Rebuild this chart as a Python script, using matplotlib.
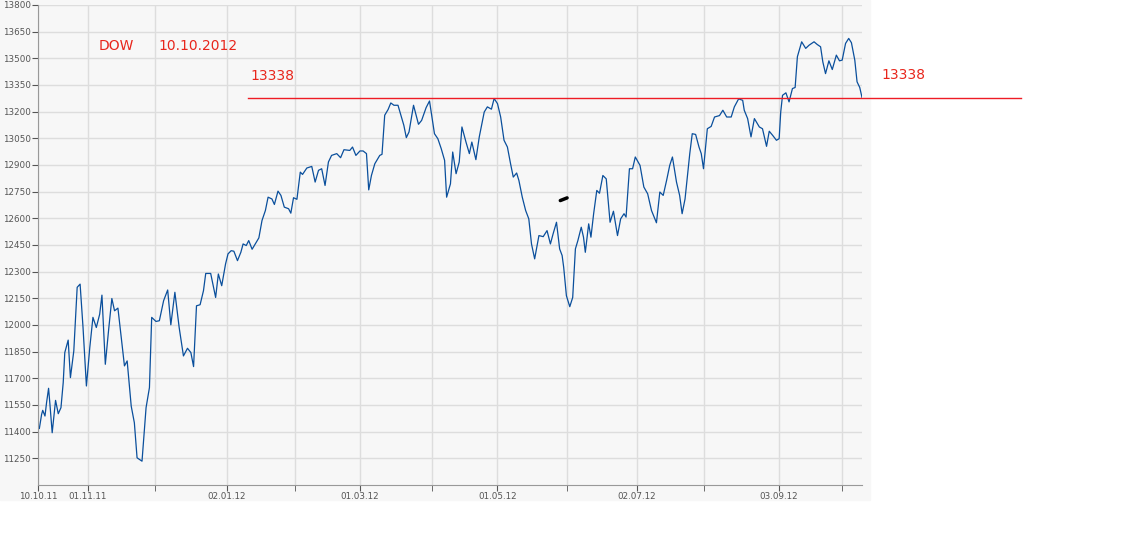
import pandas as pd
import matplotlib.pyplot as plt

# day offsets from 10.10.2011 and DOW closes
days = [0.6, 1.6, 2.1, 3.1, 3.8, 4.7, 5.3, 6.3, 7.1, 7.8, 9.0, 10.2, 11.2, 11.9, 13.4, 14.4, 15.9, 17.4, 18.7, 20.0,
        21.5, 23.0, 24.4, 25.9, 27.4, 28.4, 29.9, 31.4, 32.8, 34.0, 35.5, 37.0, 38.4, 39.6, 41.4, 42.8, 44.0, 46.2, 48.0, 49.5,
        50.5, 52.4, 53.9, 55.8, 57.6, 59.0, 60.8, 62.7, 64.6, 66.4, 67.9, 69.1, 70.4, 72.0, 73.5, 74.5, 76.7, 78.9, 80.1, 81.6,
        83.3, 84.4, 85.8, 87.0, 88.6, 90.1, 91.1, 92.5, 93.6, 95.1, 98.1, 99.5, 101.0, 102.2, 103.9, 105.0, 106.6, 107.9, 109.4, 111.3,
        112.3, 113.5, 115.0, 116.5, 117.5, 119.4, 121.6, 123.1, 124.6, 126.0, 127.5, 129.0, 130.4, 132.7, 134.4, 135.9, 138.5, 139.7, 141.2, 143.0,
        144.4, 145.9, 146.9, 148.1, 149.6, 151.8, 152.8, 154.0, 155.5, 156.7, 158.1, 159.9, 161.4, 162.5, 163.6, 164.8, 166.8, 169.0, 170.4, 172.4,
        173.9, 176.1, 177.6, 179.1, 180.6, 181.5,
        183.2, 184.2, 185.7, 187.1, 188.3, 190.1, 191.6, 192.7, 194.5, 196.0, 198.2, 199.6, 201.4, 202.6, 204.1, 205.5, 207.0, 208.5, 209.9, 211.1,
        212.6, 213.6, 215.1, 216.6, 218.0, 219.2, 220.6, 222.5, 224.4, 226.1, 227.6, 228.8, 230.3, 231.7, 232.8, 233.5, 234.7, 236.2, 237.5, 238.7,
        239.8, 241.3, 242.3, 243.1, 244.6, 245.6, 246.8, 248.2, 249.4, 250.9, 252.4, 254.1, 255.6, 257.4, 258.8, 260.3, 261.2, 262.7, 264.1, 265.3,
        267.4, 269.1, 270.8, 272.5, 274.7, 276.2, 277.7, 279.2, 280.6, 281.8, 283.6, 285.0, 286.1, 287.4, 289.5, 290.6, 292.1, 293.6, 294.6, 295.6,
        297.3, 299.0, 300.5, 302.7, 304.2, 305.9, 307.9, 309.3, 311.2, 313.0, 313.7, 315.2, 316.7, 318.2, 320.4, 321.8, 323.6, 324.8, 326.3, 328.0,
        329.2, 329.9, 330.7, 332.2, 333.6, 335.1, 336.3, 337.3, 339.2, 341.0, 342.5, 344.7, 346.1, 347.6, 348.6, 349.8, 351.3, 352.8, 354.6, 356.0,
        357.2, 358.7, 360.1, 361.3, 362.8, 363.8, 365.0, 366.0]
values = [11418, 11497, 11520, 11488, 11563, 11644, 11554, 11394, 11488, 11576, 11501, 11535, 11676, 11845, 11915, 11704, 11854, 12212, 12230, 11986,
          11657, 11873, 12043, 11986, 12061, 12168, 11779, 11977, 12149, 12080, 12095, 11929, 11770, 11798, 11544, 11450, 11253, 11234, 11535, 11648,
          12043, 12020, 12024, 12137, 12197, 12001, 12184, 11986, 11826, 11869, 11845, 11766, 12108, 12114, 12193, 12290, 12290, 12155, 12287, 12221,
          12343, 12400, 12418, 12415, 12362, 12409, 12456, 12447, 12475, 12426, 12490, 12588, 12644, 12719, 12709, 12678, 12753, 12729, 12663, 12654,
          12629, 12716, 12707, 12860, 12847, 12883, 12892, 12804, 12870, 12879, 12785, 12917, 12954, 12964, 12941, 12986, 12982, 13001, 12954, 12979,
          12979, 12964, 12760, 12841, 12907, 12954, 12960, 13180, 13212, 13249, 13236, 13236, 13170, 13123, 13054, 13086, 13236, 13129, 13151, 13223,
          13260, 13076, 13048, 12992, 12926, 12719,
          12794, 12973, 12851, 12917, 13114, 13029, 12964, 13029, 12930, 13058, 13198, 13227, 13214, 13274, 13245, 13170, 13039, 13001, 12907, 12832,
          12855, 12813, 12719, 12644, 12597, 12456, 12372, 12503, 12497, 12531, 12456, 12513, 12578, 12428, 12391, 12324, 12165, 12103, 12155, 12428,
          12475, 12550, 12494, 12409, 12569, 12494, 12626, 12757, 12741, 12841, 12822, 12578, 12640, 12503, 12597, 12626, 12607, 12879, 12879, 12945,
          12898, 12776, 12738, 12644, 12575, 12748, 12729, 12813, 12898, 12945, 12804, 12729, 12626, 12709, 12964, 13076, 13072, 13001, 12964, 12879,
          13104, 13117, 13170, 13178, 13208, 13170, 13170, 13227, 13272, 13264, 13208, 13161, 13058, 13161, 13114, 13104, 13005, 13090, 13067, 13039,
          13048, 13198, 13292, 13306, 13255, 13330, 13336, 13509, 13593, 13556, 13574, 13593, 13578, 13565, 13480, 13414, 13486, 13437, 13518, 13486,
          13490, 13584, 13612, 13588, 13490, 13368, 13336, 13280]

start = pd.Timestamp('2011-10-10')
dates = start + pd.to_timedelta(days, unit='D')

tick_dates = ['2011-10-10', '2011-11-01', '2012-01-02', '2012-03-01', '2012-05-01', '2012-07-02', '2012-09-03']
tick_labels = ['10.10.11', '01.11.11', '02.01.12', '01.03.12', '01.05.12', '02.07.12', '03.09.12']
grid_dates = ['2011-12-01', '2012-02-01', '2012-04-02', '2012-06-01', '2012-08-01', '2012-10-01']
resistance = 13276

fig = plt.figure(figsize=(11.38, 5.54), dpi=100)
bg = plt.Rectangle((0, 54 / 554), 870 / 1138, 500 / 554, transform=fig.transFigure,
                   color='#f7f7f7', zorder=-10)
fig.patches.append(bg)
ax = fig.add_axes([38 / 1138, 69 / 554, 824 / 1138, 480 / 554])
ax.set_facecolor('#f7f7f7')
ax.plot(dates, values, color='#0a4f9c', lw=0.9)

ax.set_xlim(pd.Timestamp('2011-10-10'), pd.Timestamp('2012-10-10'))
ax.set_ylim(11100, 13800)
ax.set_yticks(range(11250, 13801, 150))
ax.set_xticks(pd.to_datetime(tick_dates))
ax.set_xticklabels(tick_labels)
ax.set_xticks(pd.to_datetime(grid_dates), minor=True)
ax.tick_params(axis='both', labelsize=6.3, colors='#555555', length=4, pad=1)
ax.tick_params(axis='x', which='minor', length=4, color='#555555')
ax.grid(True, which='both', color='#dddddd', lw=1)
ax.set_axisbelow(True)
for s in ['top', 'right']:
    ax.spines[s].set_visible(False)
for s in ['left', 'bottom']:
    ax.spines[s].set_color('#999999')

ax.axhline(resistance, xmin=0.255, xmax=1.193, color='#ee1c25', lw=1, clip_on=False)
fig.text(99 / 1138, 1 - 46 / 554, 'DOW', color='#e8261c', fontsize=10, va='center')
fig.text(158 / 1138, 1 - 46 / 554, '10.10.2012', color='#e8261c', fontsize=10, va='center')
fig.text(250 / 1138, 1 - 76 / 554, '13338', color='#e8261c', fontsize=10, va='center')
fig.text(881 / 1138, 1 - 75 / 554, '13338', color='#e8261c', fontsize=10, va='center')
ax.plot([pd.Timestamp('2012-06-01') - pd.Timedelta(days=3), pd.Timestamp('2012-06-01')], [12700, 12715],
        color='black', lw=2.5, solid_capstyle='round')

fig.savefig('out.png', dpi=100)
